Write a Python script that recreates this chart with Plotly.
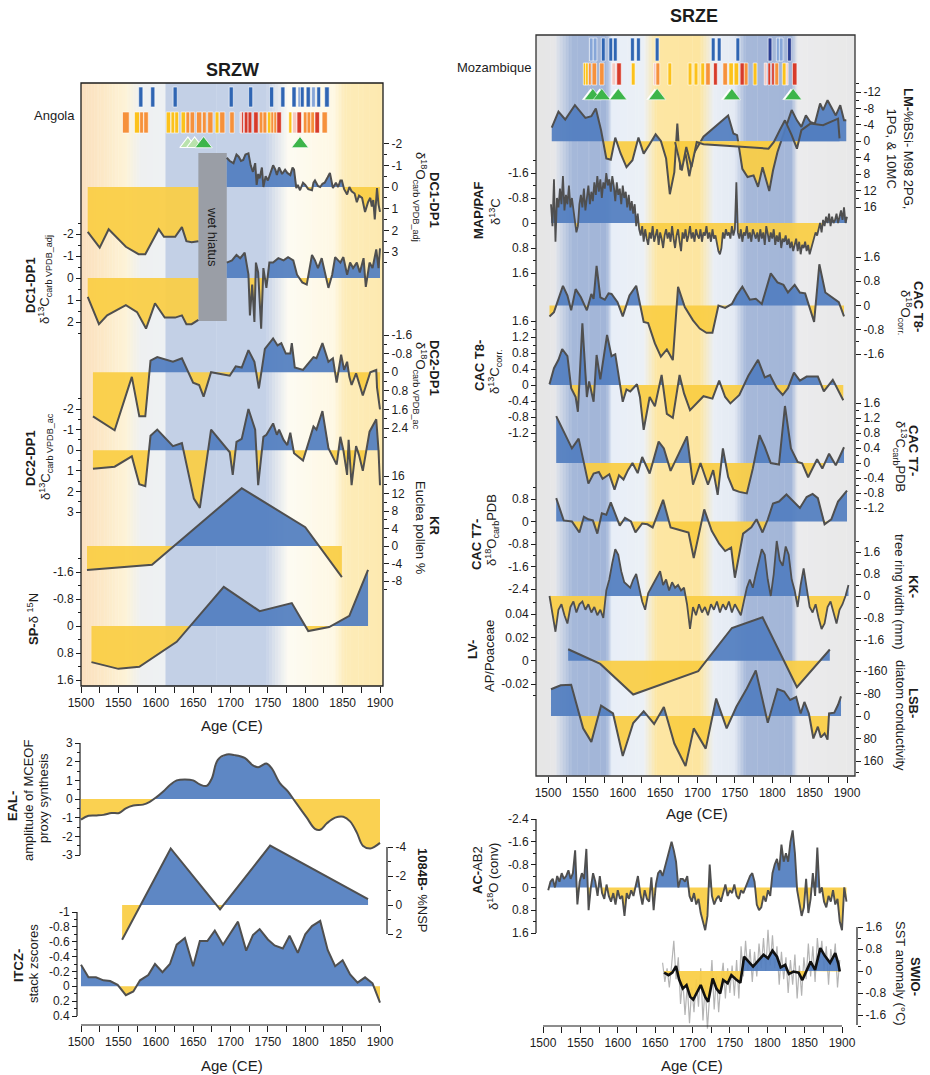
import plotly.graph_objects as go

W, H = 930, 1075
FONT = "Liberation Sans, Arial, sans-serif"
INK = "#1c1c1c"
LINE = "#4f4f4f"
BLUE = "rgba(82,126,192,0.93)"
YELLOW = "rgba(250,206,68,0.93)"

AGE_TICKS = [1500, 1550, 1600, 1650, 1700, 1750, 1800, 1850, 1900]
AGE_MINOR = [1525, 1575, 1625, 1675, 1725, 1775, 1825, 1875]

TONES = {"y": "#fcc21b", "o": "#f6913b", "r": "#d73b2a", "p": "#f7c9c0",
         "d": "#2f65b3", "l": "#86a6d8", "n": "#2a3e93"}

# ================= DATA : SRZW =================
W_BLUE_YR = [1580, 1596, 1626, 1701, 1727, 1755, 1770, 1785, 1792, 1796, 1804, 1811, 1818, 1829]
W_BLUE_WD = [5.5, 5.5, 5.5, 5.5, 5.5, 5.5, 5.5, 5.5, 3.5, 5, 5.5, 5, 5, 6]
W_BLUE_TONE = ["d", "d", "d", "d", "d", "d", "d", "d", "l", "d", "d", "l", "d", "d"]
W_ORG_YR = [1560, 1575, 1581, 1587, 1617, 1623, 1628, 1637, 1643, 1649, 1658, 1665, 1673, 1682, 1689,
            1702, 1714, 1716, 1721, 1726, 1734, 1741, 1746, 1752, 1756, 1760, 1765, 1780, 1786, 1792,
            1800, 1805, 1810, 1816, 1826]
W_ORG_WD = [9, 7, 5, 6, 6, 5, 5, 6, 5, 6, 7, 5, 7, 5, 7,
            6, 2.5, 2.5, 5, 5, 6, 5, 5, 5, 4, 4, 6, 4, 6, 6,
            5, 5, 5, 6, 7]
W_ORG_TONE = ["o", "y", "o", "o", "y", "y", "y", "y", "o", "o", "o", "o", "o", "y", "o",
              "o", "p", "r", "r", "r", "r", "o", "o", "y", "o", "o", "r", "y", "p", "r",
              "o", "o", "o", "r", "o"]
W_TRI_YR = [1664, 1793]
W_TRI_HATCH_YR = [1643, 1652]
HIATUS = [1657, 1695]

DC1_O_PRE_YR = [1509, 1525, 1537, 1560, 1577, 1586, 1604, 1611, 1626, 1635, 1641, 1648, 1657]
DC1_O_PRE = [2.07, 2.8, 1.95, 2.76, 3.1, 3.1, 1.95, 2.3, 2.3, 1.85, 2.5, 2.55, 2.5]
DC1_O_POST_YR = [1695, 1699, 1704, 1708, 1711, 1714, 1717, 1720, 1724, 1727, 1730, 1733, 1735, 1737, 1739,
                 1742, 1744, 1747, 1750, 1754, 1757, 1760, 1762, 1765, 1769, 1773, 1776, 1780, 1783, 1785,
                 1788, 1790, 1793, 1797, 1800, 1804, 1809, 1811, 1813, 1817, 1820, 1823, 1826, 1830, 1833,
                 1837, 1841, 1844, 1847, 1849, 1852, 1856, 1859, 1862, 1866, 1869, 1872, 1876, 1880, 1884,
                 1887, 1889, 1891, 1893, 1896, 1898, 1900]
DC1_O_POST = [-1.35, -1.2, -1.1, -1.5, -1.4, -1.2, -1.25, -1.5, -1.55, -1.0, -0.7, -1.1, -0.1, -0.6, -0.4,
              -0.9, 0.0, -0.5, -0.3, -0.7, -1.0, -0.8, -0.55, -0.9, -0.6, -0.8, -0.65, -0.55, -0.9, -0.8,
              0.05, -0.1, 0.15, -0.2, -0.1, 0.1, 0.15, -0.2, -0.3, -0.05, 0.0, -0.15, -0.2, -0.45, -0.65,
              0.05, -0.2, 0.0, -0.3, -0.3, 0.1, 0.35, 0.0, 0.2, 0.3, 0.7, 0.4, 0.5, 1.15, 0.7,
              0.5, 0.9, 0.6, 1.5, 0.05, 0.8, 1.15]
DC1_C_PRE_YR = [1509, 1524, 1535, 1548, 1560, 1575, 1587, 1599, 1612, 1626, 1635, 1641, 1648, 1657]
DC1_C_PRE = [0.86, 2.1, 1.7, 1.45, 1.23, 1.55, 2.3, 1.15, 1.8, 1.8, 1.7, 2.1, 2.1, 1.9]
DC1_C_POST_YR = [1695, 1702, 1708, 1713, 1719, 1724, 1726, 1729, 1732, 1734, 1737, 1741, 1744, 1748, 1752,
                 1757, 1764, 1771, 1777, 1784, 1789, 1796, 1802, 1809, 1813, 1817, 1822, 1826, 1831, 1836,
                 1840, 1847, 1851, 1856, 1860, 1864, 1869, 1873, 1878, 1881, 1886, 1890, 1895, 1898, 1900]
DC1_C_POST = [-0.7, -0.8, -1.05, -0.9, -1.15, -0.15, 1.7, 0.3, 2.0, -0.7, -0.25, 2.3, -0.45, 0.45, -0.7,
              -0.7, -0.9, -0.8, -0.95, -0.8, -0.15, 0.2, 0.3, -1.05, -0.8, -0.45, -0.9, -0.25, 0.45, -0.15,
              -0.95, -0.7, -0.95, -0.15, -0.7, -0.45, -0.7, -0.25, -0.9, 0.4, -0.7, -0.45, -1.3, -0.45, -1.35]
DC2_O_YR = [1516, 1545, 1568, 1578, 1586, 1593, 1602, 1623, 1635, 1650, 1658, 1664, 1674, 1699, 1707,
            1715, 1724, 1732, 1738, 1746, 1757, 1763, 1768, 1774, 1780, 1782, 1786, 1797, 1811, 1815,
            1823, 1831, 1837, 1842, 1848, 1852, 1856, 1859, 1862, 1868, 1877, 1887, 1895, 1896, 1900]
DC2_O = [1.9, 2.5, 0.2, 1.9, 1.9, -0.5, -0.65, -0.45, -0.6, 0.45, 0.55, 1.05, 0.0, 0.15, -0.25,
         -0.2, -0.95, -0.45, 0.7, -1.0, -1.45, -1.15, -1.25, -0.8, -0.8, -1.25, -0.2, -0.1, -0.65, -0.6,
         -1.25, -0.45, -0.6, 0.45, -0.75, -0.1, -0.45, 0.2, 0.55, 0.05, 1.0, 0.0, -0.1, 0.65, 1.6]
DC2_C_YR = [1516, 1545, 1568, 1578, 1586, 1593, 1602, 1623, 1635, 1651, 1659, 1674, 1699, 1703, 1708,
            1715, 1724, 1733, 1737, 1744, 1748, 1757, 1762, 1765, 1771, 1776, 1780, 1785, 1797, 1811,
            1815, 1823, 1831, 1842, 1847, 1851, 1856, 1858, 1862, 1868, 1872, 1877, 1886, 1895, 1898, 1900]
DC2_C = [0.9, 0.8, 0.3, 1.65, 1.75, -0.7, -1.0, -0.2, -0.35, 2.35, 2.8, -1.0, 0.1, 1.2, -0.4,
         -0.55, -2.0, -1.0, 1.7, -0.65, -0.75, -1.3, -0.75, -1.0, -0.5, -0.25, -0.85, 0.15, 0.5, -1.15,
         -1.0, -1.9, -0.1, 0.7, -0.65, 0.0, 1.2, -0.5, 1.7, -0.2, 0.25, 1.0, -0.9, -1.5, 0.0, 1.7]
KR_YR = [1508, 1595, 1715, 1800, 1849]
KR = [-5.5, -4.3, 13.2, 4.3, -7.1]
SP_YR = [1514, 1550, 1578, 1628, 1691, 1739, 1782, 1804, 1832, 1859, 1884]
SP = [1.07, 1.27, 1.21, 0.47, -1.16, -0.44, -0.68, 0.15, 0.03, -0.3, -1.66]

EAL_YR = [1500, 1510, 1521, 1530, 1541, 1551, 1560, 1570, 1583, 1592, 1601, 1610, 1619, 1628, 1639,
          1650, 1659, 1668, 1675, 1683, 1695, 1706, 1719, 1730, 1737, 1748, 1755, 1766, 1777, 1784,
          1793, 1802, 1813, 1820, 1829, 1840, 1851, 1860, 1869, 1877, 1887, 1893, 1900]
EAL = [-1.1, -0.9, -0.88, -0.85, -0.75, -0.75, -0.5, -0.35, -0.3, -0.15, 0.1, 0.4, 0.75, 1.0, 1.05,
       1.0, 0.78, 0.7, 1.1, 2.1, 2.38, 2.35, 2.2, 1.8, 1.7, 1.9, 1.65, 0.85, 0.4, 0.0,
       -0.5, -1.0, -1.6, -1.65, -1.3, -1.0, -0.95, -1.2, -1.8, -2.5, -2.65, -2.55, -2.35]
NSP_YR = [1555, 1620, 1686, 1753, 1884]
NSP = [2.4, -3.9, 0.3, -4.1, -0.4]
ITCZ_YR = [1500, 1510, 1520, 1530, 1539, 1549, 1560, 1570, 1579, 1590, 1599, 1609, 1619, 1628, 1639,
           1650, 1659, 1669, 1679, 1690, 1699, 1710, 1721, 1730, 1739, 1750, 1759, 1770, 1779, 1790,
           1800, 1809, 1820, 1830, 1840, 1850, 1860, 1870, 1880, 1890, 1900]
ITCZ = [-0.29, -0.12, -0.12, -0.08, -0.07, -0.02, 0.12, 0.07, -0.08, -0.15, -0.3, -0.19, -0.3, -0.56, -0.65,
        -0.27, -0.61, -0.61, -0.75, -0.56, -0.7, -0.87, -0.48, -0.69, -0.77, -0.63, -0.55, -0.51, -0.68, -0.45,
        -0.7, -0.81, -0.88, -0.49, -0.27, -0.35, -0.16, -0.05, -0.12, -0.04, 0.22]

# ================= DATA : SRZE =================
E_BLUE_YR = [1558, 1563, 1574, 1584, 1590, 1613, 1621, 1646, 1721, 1729, 1754, 1797, 1808, 1812, 1823]
E_BLUE_TONE = ["l", "l", "d", "d", "d", "d", "d", "d", "d", "d", "d", "n", "l", "l", "n"]
E_ORG_YR = [1549, 1552, 1556, 1562, 1572, 1588, 1595, 1614, 1643, 1647, 1663, 1690, 1698, 1707, 1714,
            1724, 1737, 1745, 1752, 1760, 1765, 1777, 1791, 1796, 1801, 1806, 1816, 1820, 1830]
E_ORG_WD = [3.5, 3.5, 3.5, 6, 6, 5, 6, 5, 3.5, 5, 5, 5, 5, 5, 6,
            5, 6, 6, 6, 6, 5, 5, 3.5, 3.5, 3.5, 5, 5, 2.5, 6]
E_ORG_TONE = ["y", "y", "o", "o", "o", "p", "r", "y", "p", "o", "y", "y", "y", "y", "o",
              "r", "o", "y", "y", "r", "o", "y", "p", "r", "r", "o", "y", "p", "r"]
E_TRI_YR = [1560, 1572, 1594, 1646, 1746, 1828]

LM_YR = [1505, 1514, 1523, 1536, 1550, 1558, 1564, 1571, 1578, 1584, 1590, 1597, 1605, 1613, 1621,
         1628, 1636, 1644, 1651, 1658, 1663, 1669, 1673, 1677, 1684, 1689, 1695, 1701, 1708, 1741,
         1748, 1753, 1760, 1767, 1775, 1781, 1787, 1796, 1801, 1807, 1813, 1818, 1826, 1833, 1839,
         1845, 1851, 1857, 1864, 1868, 1874, 1880, 1885, 1891, 1896, 1899]
LM = [-3.3, -7.2, -5.3, -8.8, -5.7, -6.1, -8.0, -2.7, 4.2, 4.5, -0.9, 2.9, 6.3, 4.6, -0.9,
      3.0, 0.7, -1.7, -0.1, 4.2, 12.9, 7.5, -4.3, 6.9, 3.0, 8.5, 3.0, 1.0, -1.1, -6.3,
      -1.9, -1.5, 6.7, 8.7, 8.3, 11.1, 6.3, 12.1, 7.1, 2.6, -0.7, -3.5, -7.6, -5.1, -3.5,
      -6.3, -4.7, -4.3, -9.2, -7.6, -10.0, -8.0, -6.3, -8.8, -5.1, -5.1]
LM2_YR = [1670, 1679, 1685, 1692, 1699, 1708, 1795, 1802, 1810, 1817, 1826, 1833, 1839, 1851, 1868, 1888, 1890]
LM2 = [0.2, 7.1, 1.4, 6.3, 0.2, 0.7, 1.8, 0.2, -2.7, -5.1, -1.5, 1.8, -2.7, -4.3, -3.9, -5.5, -0.7]

MAP_YR = list(range(1504, 1901, 2))
MAP = [-0.6, 0.1, -1.4, 0.6, -0.8, -0.5, -1.1, -0.6, -1.5, -0.4, -0.9, -0.6, -1.2, -0.5, -0.8, -0.4, -0.2, 0.3, 0.1, -0.6,
       -0.9, -0.5, -1.1, -0.4, -0.8, -1.2, -0.6, -1.0, -0.7, -1.3, -0.9, -1.5, -1.0, -1.4, -0.8, -1.3, -1.1, -1.6, -1.2, -1.4,
       -1.0, -1.5, -1.2, -0.7, -1.3, -0.9, -1.1, -0.6, -1.2, -0.8, -1.0, -0.5, -0.9, -0.4, -0.7, -0.3, -0.6, 0.1, -0.3, 0.2,
       0.4, 0.1, 0.6, 0.2, 0.5, 0.7, 0.3, 0.5, 0.1, 0.6, 0.4, 0.2, 0.7, 0.3, 0.5, 0.8, 0.4, 0.2, 0.5, 0.3,
       0.6, 0.1, 0.5, 0.8, 0.4, 0.2, 0.6, 0.9, 0.3, 0.5, 0.2, 0.6, 0.4, 0.1, 0.5, 0.3, 0.6, 0.2, 0.4, 0.5,
       0.2, 0.6, 0.3, 0.4, 0.1, 0.5, 0.3, 0.6, 0.2, 0.5, 0.4, 0.7, 0.9, 1.0, 0.8, 0.3, 0.5, 0.2, 0.4, 0.3,
       0.5, 0.1, 0.4, 0.2, -1.3, 0.3, 0.5, 0.2, 0.6, 0.3, 0.4, 0.1, 0.5, 0.3, 0.6, 0.2, 0.4, 0.5, 0.3, 0.6,
       0.2, 0.5, 0.3, 0.7, 0.1, 0.4, 0.6, 0.3, 0.5, 0.2, 0.7, 0.4, 0.6, 0.3, 0.8, 0.5, 0.6, 0.4, 0.7, 0.5,
       0.8, 0.6, 0.9, 0.7, 0.5, 0.9, 0.6, 1.0, 0.7, 0.8, 0.6, 0.9, 0.7, 1.0, 0.8, 0.6, 0.5, 0.3, 0.4, 0.2,
       0.0, 0.3, -0.1, 0.1, -0.2, 0.0, -0.3, 0.1, -0.2, 0.0, -0.1, -0.3, 0.0, -0.2, -0.4, -0.1, -0.5, 0.0, -0.2]

T8O_YR = [1502, 1508, 1520, 1526, 1531, 1537, 1544, 1552, 1558, 1561, 1565, 1570, 1576, 1581, 1585,
          1593, 1600, 1609, 1618, 1628, 1634, 1643, 1651, 1659, 1667, 1674, 1683, 1694, 1703, 1712,
          1720, 1728, 1737, 1746, 1752, 1760, 1770, 1778, 1786, 1798, 1807, 1815, 1821, 1830, 1837,
          1844, 1856, 1863, 1871, 1880, 1889, 1896]
T8O = [-0.36, -0.22, 0.65, 0.33, -0.16, 0.54, 0.27, -0.16, 0.38, 0.22, 1.31, 0.27, 0.19, 0.4, 0.38,
       0.11, -0.36, 0.33, 0.65, -0.54, -0.58, -1.25, -1.69, -1.45, -1.8, 0.62, -0.05, -0.49, -0.76, -0.9,
       -0.9, 0.0, -0.08, 0.05, 0.33, 0.62, 0.19, 0.22, 0.05, 1.06, 0.76, 0.68, 0.43, 0.68, 0.43,
       0.4, -0.54, 1.36, 0.43, 0.27, 0.11, -0.36]
T8C_YR = [1502, 1508, 1514, 1519, 1526, 1531, 1537, 1540, 1546, 1552, 1555, 1561, 1565, 1570, 1579,
          1585, 1590, 1594, 1600, 1605, 1610, 1619, 1623, 1628, 1636, 1643, 1652, 1659, 1667, 1676,
          1682, 1690, 1699, 1708, 1720, 1729, 1737, 1744, 1756, 1768, 1781, 1790, 1797, 1806, 1814,
          1821, 1829, 1837, 1846, 1861, 1869, 1881, 1895]
T8C = [0.02, 0.42, 0.63, 0.9, 0.72, -0.08, -0.3, -0.67, 1.54, -0.3, 0.09, -0.42, 0.75, 0.14, 1.25,
       0.72, 0.77, 0.25, -0.42, -0.11, -0.16, 0.02, -0.3, -1.12, -0.3, -0.53, 0.25, -0.72, -0.82, 0.25,
       -0.21, -0.63, -0.46, -0.28, -0.34, 0.11, -0.3, -0.46, -0.25, 0.23, 0.63, 0.19, 0.25, -0.08, -0.25,
       -0.08, 0.31, 0.11, 0.21, 0.21, -0.16, 0.13, -0.38]
T7C_YR = [1511, 1521, 1532, 1541, 1554, 1561, 1568, 1573, 1582, 1589, 1595, 1601, 1607, 1613, 1620,
          1626, 1636, 1648, 1655, 1664, 1686, 1694, 1704, 1714, 1721, 1727, 1734, 1741, 1748, 1756,
          1766, 1774, 1783, 1790, 1798, 1809, 1817, 1825, 1834, 1840, 1848, 1860, 1867, 1876, 1885, 1896]
T7C = [1.25, 0.83, 0.39, 0.65, -0.55, -0.28, -0.24, -0.42, -0.3, -0.71, -0.33, -0.44, -0.19, 0.0, -0.27,
       0.16, -0.28, 0.57, 0.39, -0.21, 0.71, -0.58, 0.0, -0.58, -0.19, -0.85, 0.39, -0.37, -0.71, -0.77,
       -0.81, -0.15, 0.74, 0.43, 0.0, -0.04, 1.52, 0.39, 0.03, -0.01, -0.38, 0.1, -0.15, 0.25, -0.06, 0.42]
T7O_YR = [1511, 1521, 1532, 1542, 1548, 1554, 1560, 1566, 1572, 1578, 1584, 1591, 1596, 1603, 1611,
          1617, 1626, 1633, 1640, 1654, 1664, 1676, 1688, 1695, 1709, 1719, 1729, 1737, 1745, 1750,
          1761, 1772, 1779, 1787, 1794, 1801, 1809, 1819, 1827, 1837, 1846, 1854, 1861, 1870, 1879,
          1888, 1900]
T7O = [0.83, 0.04, 0.0, -0.39, 0.17, 0.08, 0.04, -0.43, 0.29, 0.24, 0.68, 0.17, -0.15, 0.13, 0.0,
       -0.39, -0.07, -0.1, -0.21, 0.77, -0.21, -0.3, -0.39, -1.3, 0.43, -0.33, -0.79, -1.05, -0.93, -2.0,
       -0.43, -0.21, 0.08, -0.39, 0.07, 0.64, 0.71, 0.96, 0.75, 0.48, 0.87, 0.98, 0.83, -0.1, 0.08,
       0.71, 1.1]
KK_YR = list(range(1502, 1903, 4))
KK = [0.0, -0.6, -1.3, -0.5, -0.3, -0.7, -1.0, -0.4, -0.2, -0.6,
      -0.3, -0.2, -0.5, -0.3, -0.6, -0.4, -0.7, -0.5, -0.8, 0.2,
      0.6, 1.2, 1.7, 1.5, 0.9, 0.5, 0.4, 0.3, 0.6, 0.8,
      0.3, -0.2, -0.5, 0.1, 0.3, 0.5, 0.7, 0.9, 0.4, 0.6,
      0.2, 0.5, 0.3, 0.4, 0.2, 0.3, -0.3, -1.2, -0.4, -0.7,
      -0.3, -0.6, -0.4, -0.7, -0.3, -0.5, -0.2, -0.6, -0.3, -0.5,
      -0.2, -0.6, -0.3, -0.5, -0.7, -0.2, 0.3, 0.6, 0.3, 0.8,
      1.3, 1.7, 1.5, 0.6, 0.0, 0.8, 2.0, 1.3, 1.1, 1.8,
      1.5, 0.6, 0.2, -0.4, 0.4, 1.0, 0.3, -0.4, -0.6, -0.3,
      -0.8, -1.2, -1.0, -0.4, -0.2, -0.6, -1.0, -0.5, -0.3, 0.0,
      0.4]
LV_YR = [1527, 1570, 1614, 1701, 1746, 1787, 1833, 1877]
LV = [0.0098, -0.0028, -0.029, -0.009, 0.028, 0.0372, -0.0227, 0.0096]
LSB_YR = [1504, 1517, 1531, 1547, 1558, 1571, 1587, 1600, 1614, 1628, 1642, 1655, 1669, 1684, 1695,
          1711, 1725, 1739, 1752, 1766, 1778, 1794, 1807, 1816, 1824, 1832, 1838, 1843, 1849, 1855,
          1861, 1865, 1870, 1874, 1876, 1883, 1888, 1892]
LSB = [-95, -109, -111, 44, 92, -37, -9, 142, 25, -17, 28, -32, 98, 178, 44,
       116, -62, 44, -33, -98, -162, 24, -96, -87, -57, -68, -9, -50, -9, 80,
       38, 76, 62, 84, -9, -12, -40, -70]

AC_YR = list(range(1507, 1907, 3))
AC = [0.1, -0.2, -0.3, 0.0, -0.4, -0.2, -0.5, -0.3, -0.4, -0.6,
      -0.3, -0.5, -1.3, 0.6, -0.2, -0.5, -0.3, -1.35, 0.8, 0.0,
      -0.5, -0.2, 0.3, -0.4, 0.2, 0.4, -0.1, 0.3, 0.5, 0.2,
      0.6, 0.1, 0.4, 0.3, 1.0, 0.2, 0.4, 0.1, 0.3, 0.0,
      -0.4, 0.2, 0.6, 0.1, 0.4, 0.5, -0.35, 0.8, -0.1, -0.5,
      -0.6, -0.4, -0.7, -1.0, -1.2, -1.6, -1.3, -0.9, 0.0, -0.3,
      -0.3, -0.2, -0.4, 0.3, 0.5, 0.2, 0.6, 0.4, 0.9, 1.2,
      1.5, 1.0, -0.8, 0.3, 0.6, 0.4, 0.3, 0.5, 0.2, -0.1,
      0.3, 0.1, 0.2, -0.1, 0.3, 0.4, 0.1, 0.2, 0.0, -0.2,
      -0.4, -0.5, -0.2, 0.6, 0.8, 0.7, 0.3, 0.5, 0.1, 0.3,
      -0.5, -0.8, -1.0, -0.6, -1.5, -0.9, -1.2, -0.9, -1.6, -2.0,
      -1.2, 0.1, 0.5, 1.0, 0.7, -0.3, 0.9, 0.4, -0.5, 0.3,
      -1.4, 0.2, 0.0, 0.5, 0.7, 0.3, 0.5, 0.1, 0.6, 0.4,
      1.2, 1.5, 0.0, 0.5]
SWIO_RAW_YR = list(range(1660, 1898, 3))
SWIO_RAW = [0.3, -0.4, 0.1, -0.6, 0.2, 1.1, -0.3, 0.5, -1.2, -0.3,
            -1.6, -0.5, -1.9, -0.6, -1.5, -0.3, -1.3, 0.1, -1.8, -0.5,
            -2.1, -0.6, 0.4, -1.4, -0.2, -1.5, -0.4, 0.3, -1.0, 0.1,
            -0.8, 0.2, -0.9, 0.4, -1.0, 0.9, -0.2, 1.1, 0.0, 0.8,
            -0.4, 0.7, -0.2, 1.0, 0.1, 1.2, 0.0, 1.5, 0.2, 1.3,
            0.1, 0.9, -0.5, 0.7, -0.3, 0.5, -0.8, 0.4, -0.5, 0.6,
            -1.0, 0.2, -0.9, 0.5, -0.3, 1.0, -0.2, 0.9, -0.4, 1.2,
            0.3, 1.1, 0.0, 0.9, -0.5, 0.8, 0.2, 1.0, -0.6, 0.4]
SWIO_YR = [1662, 1668, 1673, 1678, 1682, 1687, 1692, 1697, 1701, 1706, 1711, 1717, 1721, 1727, 1732,
           1737, 1741, 1747, 1752, 1758, 1764, 1769, 1775, 1781, 1788, 1795, 1801, 1807, 1813, 1818,
           1824, 1829, 1835, 1842, 1847, 1853, 1858, 1864, 1871, 1877, 1884, 1891, 1895, 1897]
SWIO = [-0.06, -0.15, -0.06, 0.18, -0.3, -0.64, -0.51, -0.94, -1.04, -0.76, -0.51, -0.94, -1.12, -0.27, -0.64,
        -0.82, -0.33, -0.45, -0.15, -0.3, -0.43, 0.52, 0.34, 0.16, 0.38, 0.59, 0.46, 0.74, 0.52, 0.13,
        0.22, -0.11, -0.02, -0.06, -0.33, 0.04, 0.34, 0.04, 0.83, 0.55, 0.3, 0.65, 0.28, -0.02]

for a, b in [(DC1_O_PRE_YR, DC1_O_PRE), (DC1_O_POST_YR, DC1_O_POST), (DC1_C_PRE_YR, DC1_C_PRE),
             (DC1_C_POST_YR, DC1_C_POST), (DC2_O_YR, DC2_O), (DC2_C_YR, DC2_C), (EAL_YR, EAL),
             (ITCZ_YR, ITCZ), (LM_YR, LM), (LM2_YR, LM2), (MAP_YR, MAP), (T8O_YR, T8O), (T8C_YR, T8C),
             (T7C_YR, T7C), (T7O_YR, T7O), (KK_YR, KK), (LSB_YR, LSB), (AC_YR, AC),
             (SWIO_RAW_YR, SWIO_RAW), (SWIO_YR, SWIO), (W_ORG_YR, W_ORG_WD), (W_ORG_YR, W_ORG_TONE),
             (E_ORG_YR, E_ORG_TONE), (E_ORG_YR, E_ORG_WD), (W_BLUE_YR, W_BLUE_TONE), (E_BLUE_YR, E_BLUE_TONE)]:
    assert len(a) == len(b), (len(a), len(b))

# ================= BUILD =================
layout = dict(width=W, height=H, margin=dict(l=0, r=0, t=0, b=0, pad=0, autoexpand=False),
              paper_bgcolor="white", plot_bgcolor="rgba(0,0,0,0)", showlegend=False, hovermode=False,
              barmode="overlay", font=dict(family=FONT, size=12, color=INK))
shapes, annotations, traces = [], [], []
cnt = {"x": 0, "y": 0}
YREV = {}


def add_axis(kind, spec):
    cnt[kind] += 1
    n = cnt[kind]
    layout[f"{kind}axis" if n == 1 else f"{kind}axis{n}"] = spec
    return kind if n == 1 else f"{kind}{n}"


def make_x(px0, px1, pos, pa, pb, show=True):
    k = (pb - pa) / 400.0
    spec = dict(domain=[px0 / W, px1 / W], range=[1500 + (px0 - pa) / k, 1500 + (px1 - pa) / k],
                anchor="free", position=1 - pos / H, showgrid=False, zeroline=False, showline=False,
                fixedrange=True, automargin=False)
    if show:
        spec.update(ticks="outside", ticklen=6, tickwidth=1, tickcolor=INK, tickmode="array",
                    tickvals=AGE_TICKS, ticktext=[str(t) for t in AGE_TICKS], tickfont=dict(size=12, color=INK),
                    minor=dict(tickmode="array", tickvals=AGE_MINOR, ticks="outside", ticklen=6,
                               tickwidth=1, tickcolor=INK))
    else:
        spec.update(visible=False)
    return add_axis("x", spec)


def make_y(v1, p1, v2, p2, top, bot, side=None, pos=0, major=(), minor=()):
    k = (p2 - p1) / (v2 - v1)
    vb = v1 + (bot - p1) / k
    vt = v1 + (top - p1) / k
    spec = dict(domain=[1 - bot / H, 1 - top / H], range=[vb, vt], anchor="free", position=pos / W,
                showgrid=False, zeroline=False, showline=False, fixedrange=True, automargin=False)
    if side:
        spec.update(side=side, ticks="outside", ticklen=5, tickwidth=1, tickcolor=INK, tickmode="array",
                    tickvals=list(major), ticktext=[f"{v:g}" for v in major], tickfont=dict(size=12, color=INK),
                    minor=dict(tickmode="array", tickvals=list(minor), ticks="outside", ticklen=3,
                               tickwidth=1, tickcolor=INK))
    else:
        spec.update(visible=False)
    ref = add_axis("y", spec)
    YREV[ref] = k > 0
    return ref


def series(xr, yr, xs, vs, fill=True, width=2.0, color=LINE, shape="linear"):
    if fill:
        bsign = -1 if YREV[yr] else 1
        px_, py_ = [], []
        for i, (x, v) in enumerate(zip(xs, vs)):
            if i > 0:
                x0, v0 = xs[i - 1], vs[i - 1]
                if v0 * v < 0:
                    t = v0 / (v0 - v)
                    px_.append(x0 + t * (x - x0))
                    py_.append(0.0)
            px_.append(x)
            py_.append(v)
        b = [y if y * bsign > 0 else 0 for y in py_]
        yy = [y if y * bsign < 0 else 0 for y in py_]
        for arr, col in ((b, BLUE), (yy, YELLOW)):
            traces.append(go.Scatter(x=px_, y=arr, xaxis=xr, yaxis=yr, mode="lines", line=dict(width=0),
                                     fill="tozeroy", fillcolor=col, hoverinfo="skip"))
    traces.append(go.Scatter(x=xs, y=vs, xaxis=xr, yaxis=yr, mode="lines",
                             line=dict(color=color, width=width, shape=shape), hoverinfo="skip"))


def hex2rgb(h):
    h = h.lstrip("#")
    return tuple(int(h[i:i + 2], 16) for i in (0, 2, 4))


def color_at(stops, x):
    if x <= stops[0][0]:
        return hex2rgb(stops[0][1])
    for (x0, c0), (x1, c1) in zip(stops, stops[1:]):
        if x0 <= x <= x1:
            t = (x - x0) / (x1 - x0) if x1 > x0 else 0
            a, b = hex2rgb(c0), hex2rgb(c1)
            return tuple(round(a[i] + (b[i] - a[i]) * t) for i in range(3))
    return hex2rgb(stops[-1][1])


def gradient(xref, stops, x0, x1, top, bot):
    segs = []
    x = x0
    while x < x1:
        xe = min(x + 1.0, x1)
        c = color_at(stops, (x + xe) / 2)
        if segs and segs[-1][2] == c:
            segs[-1][1] = xe
        else:
            segs.append([x, xe, c])
        x = xe
    for a, b, c in segs:
        shapes.append(dict(type="rect", xref=xref, yref="paper", x0=a, x1=min(b + 0.5, x1),
                           y0=1 - bot / H, y1=1 - top / H, fillcolor="rgb(%d,%d,%d)" % c,
                           line=dict(width=0), layer="below"))


def pline(x0, y0, x1, y1, w=1.2, col=INK):
    shapes.append(dict(type="line", xref="paper", yref="paper", x0=x0 / W, x1=x1 / W,
                       y0=1 - y0 / H, y1=1 - y1 / H, line=dict(color=col, width=w), layer="above"))


def text(s, x, y, angle=0, size=13, xanchor="center", col=INK):
    annotations.append(dict(text=s, x=x / W, y=1 - y / H, xref="paper", yref="paper", showarrow=False,
                            textangle=angle, font=dict(size=size, color=col, family=FONT),
                            xanchor=xanchor, yanchor="middle"))


def ribbon(xr, yr, yrs, wds, tones, top, bot):
    n = len(yrs)
    traces.append(go.Bar(x=yrs, y=[bot - top] * n, base=[top] * n, width=wds,
                         marker=dict(color=[TONES[t] for t in tones], line=dict(color="white", width=0.6)),
                         xaxis=xr, yaxis=yr, hoverinfo="skip"))


# ---------------- SRZW ----------------
xW = make_x(81, 383, 686, 81, 380)
pW = make_y(0, 0, H, H, 0, H)  # pixel axis for ribbons
gradient(xW, [(1499, "#fbdfbf"), (1528, "#fce8c6"), (1560, "#fdf3d7"), (1580, "#eef0f1"),
              (1612.5, "#eef1f3"), (1613.5, "#c3d0e6"), (1748, "#c4d1e7"), (1777, "#fdfbf2"),
              (1838, "#fef8e4"), (1852, "#fdecb9"), (1905, "#fde9af")], 1500, 1904, 83, 686)
shapes.append(dict(type="rect", xref=xW, yref="paper", x0=HIATUS[0], x1=HIATUS[1], y0=1 - 321 / H,
                   y1=1 - 153 / H, fillcolor="#9a9ea6", line=dict(width=0), layer="below"))

ribbon(xW, pW, W_BLUE_YR, W_BLUE_WD, W_BLUE_TONE, 87, 107)
ribbon(xW, pW, W_ORG_YR, W_ORG_WD, W_ORG_TONE, 112, 133)
traces.append(go.Scatter(x=W_TRI_HATCH_YR, y=[144] * 2, xaxis=xW, yaxis=pW, mode="markers",
                         marker=dict(symbol="triangle-up", size=14, color="#b9e2ad",
                                     line=dict(color="white", width=1.2)), hoverinfo="skip"))
traces.append(go.Scatter(x=W_TRI_YR, y=[144] * 2, xaxis=xW, yaxis=pW, mode="markers",
                         marker=dict(symbol="triangle-up", size=15, color="#3db54a",
                                     line=dict(color="white", width=0.8)), hoverinfo="skip"))

yA = make_y(0, 187, 3, 252, 130, 330, "right", 383, [-2, -1, 0, 1, 2, 3], [-1.5, -0.5, 0.5, 1.5, 2.5, 3.5])
series(xW, yA, DC1_O_PRE_YR, DC1_O_PRE)
series(xW, yA, DC1_O_POST_YR, DC1_O_POST)
yB = make_y(-2, 234, 2, 322, 215, 345, "left", 81, [-2, -1, 0, 1, 2], [-2.5, -1.5, -0.5, 0.5, 1.5, 2.5])
series(xW, yB, DC1_C_PRE_YR, DC1_C_PRE)
series(xW, yB, DC1_C_POST_YR, DC1_C_POST)
yC = make_y(-1.6, 335, 2.4, 428, 320, 445, "right", 383, [-1.6, -0.8, 0, 0.8, 1.6, 2.4],
            [-1.2, -0.4, 0.4, 1.2, 2.0, 2.8])
series(xW, yC, DC2_O_YR, DC2_O)
yD = make_y(-2, 409, 3, 512, 395, 520, "left", 81, [-2, -1, 0, 1, 2, 3], [-2.5, -1.5, -0.5, 0.5, 1.5, 2.5, 3.5])
series(xW, yD, DC2_C_YR, DC2_C)
yE = make_y(16, 476, -8, 581, 465, 600, "right", 383, [16, 12, 8, 4, 0, -4, -8],
            [14, 10, 6, 2, -2, -6, -10])
series(xW, yE, KR_YR, KR)
yF = make_y(-1.6, 572, 1.6, 680, 555, 690, "left", 81, [-1.6, -0.8, 0, 0.8, 1.6], [-2.0, -1.2, -0.4, 0.4, 1.2])
series(xW, yF, SP_YR, SP)
shapes.append(dict(type="rect", xref="paper", yref="paper", x0=81 / W, x1=383 / W, y0=1 - 686 / H,
                   y1=1 - 83 / H, line=dict(color=INK, width=1.3), layer="above"))

# ---------------- SRZW bottom ----------------
xWb = make_x(70, 395, 1025, 81, 380)
pline(81, 1025, 380, 1025)
yG = make_y(3, 743, -3, 855, 735, 862, "left", 80, [3, 2, 1, 0, -1, -2, -3],
            [2.5, 1.5, 0.5, -0.5, -1.5, -2.5])
series(xWb, yG, EAL_YR, EAL, shape="spline")
pline(80, 743, 80, 855)
yH = make_y(-4, 847, 2, 934, 835, 945, "right", 387, [-4, -2, 0, 2], [-3, -1, 1])
series(xWb, yH, NSP_YR, NSP)
pline(387, 847, 387, 934)
yI = make_y(-1, 912, 0.4, 1016, 900, 1022, "left", 77, [-1, -0.8, -0.6, -0.4, -0.2, 0, 0.2, 0.4],
            [-0.9, -0.7, -0.5, -0.3, -0.1, 0.1, 0.3])
series(xWb, yI, ITCZ_YR, ITCZ)
pline(77, 912, 77, 1016)

# ---------------- SRZE ----------------
xE = make_x(536, 855, 776, 548, 847)
pE = make_y(0, 0, H, H, 0, H)
gradient(xE, [(1483, "#e5e5e5"), (1509, "#e7e7e8"), (1514, "#d6dce8"), (1531, "#a5b8d9"),
              (1578, "#a2b5d8"), (1582, "#bccae3"), (1585, "#e8eef7"), (1628, "#ebf0f6"),
              (1645, "#fde6a3"), (1703, "#fde5a0"), (1722, "#e9eef5"), (1749, "#e4eaf4"),
              (1764, "#a6b8d9"), (1826, "#a3b6d8"), (1834, "#ebebed"), (1912, "#e8e8e8")],
         1484, 1910.7, 35, 776)
ribbon(xE, pE, E_BLUE_YR, [5] * len(E_BLUE_YR), E_BLUE_TONE, 38, 61)
ribbon(xE, pE, E_ORG_YR, E_ORG_WD, E_ORG_TONE, 63, 85)
traces.append(go.Scatter(x=[y - 3 for y in E_TRI_YR], y=[96] * len(E_TRI_YR), xaxis=xE, yaxis=pE,
                         mode="markers", marker=dict(symbol="triangle-up", size=15, color="white"),
                         hoverinfo="skip"))
traces.append(go.Scatter(x=E_TRI_YR, y=[96] * len(E_TRI_YR), xaxis=xE, yaxis=pE, mode="markers",
                         marker=dict(symbol="triangle-up", size=15, color="#3db54a",
                                     line=dict(color="white", width=0.6)), hoverinfo="skip"))

yJ = make_y(-12, 92, 16, 207, 80, 215, "right", 855, [-12, -8, -4, 0, 4, 8, 12, 16],
            [-14, -10, -6, -2, 2, 6, 10, 14, 18])
series(xE, yJ, LM_YR, LM)
series(xE, yJ, LM2_YR, LM2)
yK = make_y(-1.6, 173, 1.6, 273, 155, 290, "left", 536, [-1.6, -0.8, 0, 0.8, 1.6], [-2.0, -1.2, -0.4, 0.4, 1.2, 2.0])
series(xE, yK, MAP_YR, MAP, width=1.8)
yL = make_y(1.6, 257, -1.6, 354, 245, 365, "right", 855, [1.6, 0.8, 0, -0.8, -1.6], [1.2, 0.4, -0.4, -1.2, -2.0])
series(xE, yL, T8O_YR, T8O)
yM = make_y(1.6, 321, -1.2, 433, 310, 445, "left", 536, [1.6, 1.2, 0.8, 0.4, 0, -0.4, -0.8, -1.2],
            [1.4, 1.0, 0.6, 0.2, -0.2, -0.6, -1.0, -1.4])
series(xE, yM, T8C_YR, T8C)
yN = make_y(1.6, 403, -1.2, 508, 395, 515, "right", 855, [1.6, 1.2, 0.8, 0.4, 0, -0.4, -0.8, -1.2],
            [1.4, 1.0, 0.6, 0.2, -0.2, -0.6, -1.0, -1.4])
series(xE, yN, T7C_YR, T7C)
yO = make_y(0.8, 499, -2.4, 589, 480, 600, "left", 536, [0.8, 0, -0.8, -1.6, -2.4], [1.2, 0.4, -0.4, -1.2, -2.0, -2.8])
series(xE, yO, T7O_YR, T7O)
yP = make_y(1.6, 552, -1.6, 640, 535, 650, "right", 855, [1.6, 0.8, 0, -0.8, -1.6], [2.0, 1.2, 0.4, -0.4, -1.2, -2.0])
series(xE, yP, KK_YR, KK, width=1.8)
yQ = make_y(0.04, 614, -0.02, 684, 600, 700, "left", 536, [0.04, 0.02, 0, -0.02], [0.05, 0.03, 0.01, -0.01, -0.03])
series(xE, yQ, LV_YR, LV)
yR = make_y(-160, 671, 160, 761, 655, 775, "right", 855, [-160, -80, 0, 80, 160], [-200, -120, -40, 40, 120, 200])
series(xE, yR, LSB_YR, LSB)
shapes.append(dict(type="rect", xref="paper", yref="paper", x0=536 / W, x1=855 / W, y0=1 - 776 / H,
                   y1=1 - 35 / H, line=dict(color="#333333", width=1.3), layer="above"))

# ---------------- SRZE bottom ----------------
xEb = make_x(530, 860, 1026, 543, 842)
pline(543, 1026, 842, 1026)
yS = make_y(-2.4, 819, 1.6, 933, 805, 945, "left", 536, [-2.4, -1.6, -0.8, 0, 0.8, 1.6],
            [-2.0, -1.2, -0.4, 0.4, 1.2])
series(xEb, yS, AC_YR, AC, width=1.9)
pline(536, 819, 536, 933)
yT = make_y(1.6, 927, -1.6, 1015, 915, 1040, "right", 857, [1.6, 0.8, 0, -0.8, -1.6], [1.2, 0.4, -0.4, -1.2, -2.0])
traces.append(go.Scatter(x=SWIO_RAW_YR, y=SWIO_RAW, xaxis=xEb, yaxis=yT, mode="lines",
                         line=dict(color="#b4b4b4", width=1.2), hoverinfo="skip"))
series(xEb, yT, SWIO_YR, SWIO, width=2.6, color="#111111")
pline(857, 927, 857, 1025)

# ---------------- TEXT ----------------
text("<b>SRZW</b>", 232, 70, 0, 18)
text("Angola", 77, 115, 0, 13, xanchor="right")
text("wet hiatus", 212, 237, 90, 13)
text("<b>DC1-DP1</b>", 435, 200, 90, 13)
text("δ<sup>18</sup>O<sub>carb VPDB_adj</sub>", 420, 197, 90, 13)
text("<b>DC1-DP1</b>", 30, 285, -90, 13)
text("δ<sup>13</sup>C<sub>carb VPDB_adj</sub>", 45, 280, -90, 13)
text("<b>DC2-DP1</b>", 435, 368, 90, 13)
text("δ<sup>18</sup>O<sub>carb VPDB_ac</sub>", 420, 386, 90, 13)
text("<b>DC2-DP1</b>", 30, 458, -90, 13)
text("δ<sup>13</sup>C<sub>carb VPDB_ac</sub>", 46, 457, -90, 13)
text("<b>KR</b>", 435, 525, 90, 13)
text("Euclea pollen %", 421, 528, 90, 13)
text("<b>SP-</b>δ <sup>15</sup>N", 33, 619, -90, 13)
text("Age (CE)", 232, 725, 0, 15)
text("<b>EAL-</b>", 12, 806, -90, 13)
text("amplitude of MCEOF", 28, 801, -90, 13)
text("proxy synthesis", 43, 798, -90, 13)
text("<b>1084B-</b> %NSP", 423, 890, 90, 13)
text("<b>ITCZ-</b>", 18, 966, -90, 13)
text("stack zscores", 33, 964, -90, 13)
text("Age (CE)", 232, 1065, 0, 15)

text("<b>SRZE</b>", 694, 16, 0, 18)
text("Mozambique", 533, 68, 0, 13, xanchor="right")
text("<b>LM-</b>%BSi- M98 2PG,<br>1PG, & 10MC", 900, 148, 90, 13)
text("<b>MAP/PAF</b>", 479, 210, -90, 13)
text("δ<sup>13</sup>C", 495, 212, -90, 13)
text("<b>CAC T8-</b>", 919, 306, 90, 13)
text("δ<sup>18</sup>O<sub>corr.</sub>", 905, 312, 90, 13)
text("<b>CAC T8-</b>", 479, 365, -90, 13)
text("δ<sup>13</sup>C<sub>corr.</sub>", 495, 372, -90, 13)
text("<b>CAC T7-</b>", 914, 450, 90, 13)
text("δ<sup>13</sup>C<sub>carb</sub>PDB", 900, 456, 90, 13)
text("<b>CAC T7-</b>", 476, 545, -90, 13)
text("δ<sup>18</sup>O<sub>carb</sub>PDB", 492, 530, -90, 13)
text("<b>KK-</b>", 914, 586, 90, 13)
text("tree ring width (mm)", 900, 592, 90, 13)
text("<b>LV-</b>", 472, 650, -90, 13)
text("AP/Poaceae", 489, 656, -90, 13)
text("<b>LSB-</b>", 914, 703, 90, 13)
text("diatom conductivity", 901, 715, 90, 13)
text("Age (CE)", 697, 813, 0, 15)
text("<b>AC-</b>AB2", 477, 870, -90, 13)
text("δ<sup>18</sup>O (conv)", 493, 877, -90, 13)
text("<b>SWIO-</b>", 916, 976, 90, 13)
text("SST anomaly (°C)", 901, 973, 90, 13)
text("Age (CE)", 692, 1065, 0, 15)

layout["shapes"] = shapes
layout["annotations"] = annotations
fig = go.Figure(data=traces, layout=layout)
fig.write_html("out.html", config={"displayModeBar": False, "staticPlot": True},
               post_script="document.body.style.margin='0px';document.body.style.overflow='hidden';")
